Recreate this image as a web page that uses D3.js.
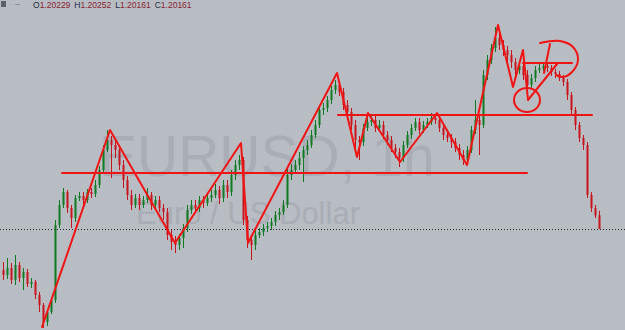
<html>
<head>
<title>EURUSD H1</title>
<script src="https://d3js.org/d3.v7.min.js"></script>
<style>
body { margin: 0; background: #b8bcc3; overflow: hidden; }
</style>
</head>
<body>
<script>
// hourly EURUSD candles, oldest first
var open = [
  1.19956,1.19931,1.19966,1.19906,1.19981,1.19916,1.19946,1.19886,1.19896,1.19831,
  1.19781,1.19696,1.19746,1.19806,1.20181,1.20281,1.20346,1.20266,1.20216,1.20316,
  1.20326,1.20306,1.20346,1.20336,1.20381,1.20456,1.20556,1.20606,1.20581,1.20556,
  1.20481,1.20406,1.20331,1.20281,1.20316,1.20281,1.20306,1.20331,1.20281,1.20306,
  1.20266,1.20246,1.20131,1.20096,1.20081,1.20116,1.20166,1.20256,1.20281,1.20266,
  1.20306,1.20291,1.20316,1.20331,1.20356,1.20316,1.20381,1.20346,1.20431,1.20481,
  1.20506,1.20206,1.20106,1.20081,1.20131,1.20146,1.20166,1.20176,1.20196,1.20231,
  1.20246,1.20281,1.20431,1.20456,1.20481,1.20516,1.20556,1.20581,1.20631,1.20681,
  1.20756,1.20766,1.20806,1.20856,1.20881,1.20846,1.20781,1.20746,1.20681,1.20606,
  1.20596,1.20666,1.20696,1.20706,1.20666,1.20681,1.20631,1.20606,1.20566,1.20546,
  1.20516,1.20581,1.20631,1.20666,1.20696,1.20656,1.20681,1.20696,1.20716,1.20706,
  1.20666,1.20631,1.20616,1.20596,1.20566,1.20531,1.20506,1.20556,1.20656,1.20706,
  1.20681,1.20931,1.21006,1.21066,1.21116,1.21081,1.21056,1.21031,1.20996,1.20956,
  1.20976,1.20931,1.20881,1.20916,1.20956,1.20966,1.20976,1.20966,1.20946,1.20936,
  1.20916,1.20896,1.20831,1.20756,1.20681,1.20616,1.20581,1.20331,1.20266,1.20229
];
var high = [
  1.19996,1.20016,1.19991,1.20031,1.19996,1.19966,1.19961,1.19916,1.19906,1.19846,
  1.19791,1.19761,1.19821,1.20206,1.20306,1.20366,1.20356,1.20281,1.20331,1.20346,
  1.20346,1.20361,1.20366,1.20406,1.20476,1.20581,1.20656,1.20626,1.20606,1.20571,
  1.20506,1.20426,1.20356,1.20336,1.20336,1.20326,1.20366,1.20346,1.20326,1.20326,
  1.20286,1.20266,1.20156,1.20126,1.20136,1.20186,1.20281,1.20306,1.20306,1.20326,
  1.20326,1.20336,1.20356,1.20386,1.20376,1.20406,1.20406,1.20456,1.20506,1.20531,
  1.20521,1.20226,1.20131,1.20156,1.20166,1.20186,1.20196,1.20216,1.20251,1.20266,
  1.20306,1.20466,1.20486,1.20506,1.20546,1.20576,1.20606,1.20656,1.20706,1.20781,
  1.20791,1.20826,1.20876,1.20906,1.20896,1.20866,1.20806,1.20766,1.20706,1.20626,
  1.20686,1.20716,1.20726,1.20726,1.20706,1.20701,1.20651,1.20626,1.20586,1.20566,
  1.20601,1.20651,1.20686,1.20716,1.20716,1.20701,1.20716,1.20741,1.20736,1.20726,
  1.20686,1.20651,1.20636,1.20616,1.20586,1.20556,1.20576,1.20676,1.20806,1.20726,
  1.20956,1.21031,1.21086,1.21171,1.21136,1.21106,1.21076,1.21056,1.21016,1.20996,
  1.20996,1.20956,1.20936,1.20976,1.20991,1.20996,1.20991,1.20981,1.20961,1.20951,
  1.20931,1.20911,1.20846,1.20771,1.20696,1.20631,1.20596,1.20346,1.20281,1.20252
];
var low = [
  1.19906,1.19911,1.19886,1.19881,1.19896,1.19856,1.19871,1.19866,1.19811,1.19746,
  1.19666,1.19676,1.19736,1.19791,1.20166,1.20266,1.20241,1.20166,1.20196,1.20301,
  1.20281,1.20291,1.20316,1.20321,1.20366,1.20446,1.20546,1.20416,1.20516,1.20456,
  1.20366,1.20306,1.20256,1.20266,1.20256,1.20266,1.20291,1.20256,1.20266,1.20246,
  1.20206,1.20106,1.20056,1.20041,1.20056,1.20066,1.20146,1.20236,1.20246,1.20246,
  1.20266,1.20276,1.20296,1.20316,1.20286,1.20296,1.20316,1.20326,1.20406,1.20456,
  1.20181,1.20066,1.20006,1.20056,1.20116,1.20126,1.20146,1.20156,1.20176,1.20206,
  1.20231,1.20266,1.20406,1.20436,1.20456,1.20396,1.20531,1.20566,1.20616,1.20666,
  1.20731,1.20746,1.20786,1.20836,1.20826,1.20756,1.20716,1.20656,1.20566,1.20506,
  1.20576,1.20651,1.20676,1.20646,1.20651,1.20611,1.20581,1.20546,1.20516,1.20471,
  1.20496,1.20566,1.20611,1.20651,1.20636,1.20641,1.20666,1.20681,1.20686,1.20646,
  1.20606,1.20596,1.20566,1.20546,1.20506,1.20481,1.20491,1.20541,1.20636,1.20531,
  1.20666,1.20906,1.20986,1.21046,1.21056,1.21026,1.20996,1.20966,1.20926,1.20936,
  1.20906,1.20846,1.20866,1.20896,1.20941,1.20951,1.20946,1.20926,1.20916,1.20901,
  1.20876,1.20806,1.20736,1.20656,1.20596,1.20556,1.20316,1.20246,1.20216,1.20161
];
var close = [
  1.19931,1.19966,1.19906,1.19981,1.19916,1.19946,1.19886,1.19896,1.19831,1.19781,
  1.19696,1.19746,1.19806,1.20181,1.20281,1.20346,1.20266,1.20216,1.20316,1.20326,
  1.20306,1.20346,1.20336,1.20381,1.20456,1.20556,1.20606,1.20581,1.20556,1.20481,
  1.20406,1.20331,1.20281,1.20316,1.20281,1.20306,1.20331,1.20281,1.20306,1.20266,
  1.20246,1.20131,1.20096,1.20081,1.20116,1.20166,1.20256,1.20281,1.20266,1.20306,
  1.20291,1.20316,1.20331,1.20356,1.20316,1.20381,1.20346,1.20431,1.20481,1.20506,
  1.20206,1.20106,1.20081,1.20131,1.20146,1.20166,1.20176,1.20196,1.20231,1.20246,
  1.20281,1.20431,1.20456,1.20481,1.20516,1.20556,1.20581,1.20631,1.20681,1.20756,
  1.20766,1.20806,1.20856,1.20881,1.20846,1.20781,1.20746,1.20681,1.20606,1.20596,
  1.20666,1.20696,1.20706,1.20666,1.20681,1.20631,1.20606,1.20566,1.20546,1.20516,
  1.20581,1.20631,1.20666,1.20696,1.20656,1.20681,1.20696,1.20716,1.20706,1.20666,
  1.20631,1.20616,1.20596,1.20566,1.20531,1.20506,1.20556,1.20656,1.20706,1.20681,
  1.20931,1.21006,1.21066,1.21116,1.21081,1.21056,1.21031,1.20996,1.20956,1.20976,
  1.20931,1.20881,1.20916,1.20956,1.20966,1.20976,1.20966,1.20946,1.20936,1.20916,
  1.20896,1.20831,1.20756,1.20681,1.20616,1.20581,1.20331,1.20266,1.20229,1.20161
];
var lastPrice = 1.20161;
var header = [["O", "1.20229"], ["H", "1.20252"], ["L", "1.20161"], ["C", "1.20161"]];
var symbol = "EURUSD, 1h";
var description = "Euro / US Dollar";

// hand drawn objects: [bar index, price]
var zigzag = [
  [9.75, 1.19671], [26.75, 1.20656], [43, 1.20091], [59.5, 1.20591], [61.25, 1.20091],
  [83.5, 1.20941], [88.5, 1.20521], [91.25, 1.20741], [99.25, 1.20496], [108.5, 1.20741],
  [116, 1.20481], [123.75, 1.21181], [127.5, 1.20871], [130, 1.21056], [131.25, 1.20806],
  [138.5, 1.20986]
];
// [from bar, to bar, price]
var levels = [[14.75, 131, 1.20441], [83.75, 147.25, 1.20731], [130, 142.25, 1.20991]];
var ring = { bar: 131, price: 1.20806, rBars: 3.25, rPrice: 0.0006 };
var loop = [[134.25, 1.21091], [139.25, 1.21101], [142.5, 1.21071], [143.75, 1.21006],
  [142.25, 1.20946], [140, 1.20921], [138.25, 1.20931]];
var stem = [[136.75, 1.21086], [135.25, 1.20941]];

var width = 625, height = 330;

var svg = d3.select('body')
  .append('svg')
  .attr('width', width)
  .attr('height', height);

var x = d3.scaleLinear().domain([0, close.length - 1]).range([3, 599]);
var y = d3.scaleLinear().domain([1.21306, 1.19656]).range([0, height]);

svg.append('rect').attr('width', width).attr('height', height).attr('fill', '#b8bcc3');

// watermark
svg.append('text')
  .attr('x', 99).attr('y', 176)
  .attr('font-family', 'Liberation Sans, Arial, sans-serif')
  .attr('font-size', 57)
  .attr('fill', '#a9adb5')
  .text(symbol);
svg.append('text')
  .attr('x', 136).attr('y', 224)
  .attr('font-family', 'Liberation Sans, Arial, sans-serif')
  .attr('font-size', 31)
  .attr('fill', '#a9adb5')
  .text(description);

// current price line
svg.append('line')
  .attr('x1', 0).attr('x2', width)
  .attr('y1', Math.round(y(lastPrice)) + 0.5).attr('y2', Math.round(y(lastPrice)) + 0.5)
  .attr('stroke', '#2a2a2a')
  .attr('stroke-dasharray', '1,2');

var candles = svg.append('g');
var idx = d3.range(close.length);
var col = function (i) { return close[i] >= open[i] ? '#0f7a22' : '#c8141c'; };

candles.selectAll('line')
  .data(idx).enter().append('line')
  .attr('x1', function (i) { return Math.round(x(i)) + 0.5; })
  .attr('x2', function (i) { return Math.round(x(i)) + 0.5; })
  .attr('y1', function (i) { return y(high[i]); })
  .attr('y2', function (i) { return y(low[i]); })
  .attr('stroke', col);

candles.selectAll('rect')
  .data(idx).enter().append('rect')
  .attr('x', function (i) { return Math.round(x(i)) - 0.5; })
  .attr('width', 2)
  .attr('y', function (i) { return y(Math.max(open[i], close[i])); })
  .attr('height', function (i) { return Math.max(1, Math.abs(y(open[i]) - y(close[i]))); })
  .attr('fill', col);

// red drawings
var red = svg.append('g')
  .attr('fill', 'none')
  .attr('stroke', '#f01414')
  .attr('stroke-width', 2)
  .attr('stroke-linejoin', 'round')
  .attr('stroke-linecap', 'round');

var line = d3.line().x(function (d) { return x(d[0]); }).y(function (d) { return y(d[1]); });

red.append('path').attr('d', line(zigzag));

red.selectAll('line')
  .data(levels).enter().append('line')
  .attr('x1', function (d) { return x(d[0]); })
  .attr('x2', function (d) { return x(d[1]); })
  .attr('y1', function (d) { return y(d[2]); })
  .attr('y2', function (d) { return y(d[2]); });

red.append('ellipse')
  .attr('cx', x(ring.bar)).attr('cy', y(ring.price))
  .attr('rx', x(ring.bar + ring.rBars) - x(ring.bar))
  .attr('ry', y(ring.price - ring.rPrice) - y(ring.price));

red.append('path').attr('d', line.curve(d3.curveCatmullRom)(loop));
red.append('path').attr('d', d3.line().x(function (d) { return x(d[0]); }).y(function (d) { return y(d[1]); })(stem));

// top-left info
svg.append('rect').attr('x', 1).attr('y', 1).attr('width', 5).attr('height', 6).attr('fill', '#5a5f6a');
svg.append('line').attr('x1', 15).attr('x2', 20).attr('y1', 4.5).attr('y2', 4.5).attr('stroke', '#8a8f99');
var info = svg.append('text')
  .attr('x', 33).attr('y', 8)
  .attr('font-family', 'Liberation Sans, Arial, sans-serif')
  .attr('font-size', 8.5);
header.forEach(function (h, i) {
  info.append('tspan').attr('fill', '#1f2a44').attr('dx', i ? 4 : 0).text(h[0]);
  info.append('tspan').attr('fill', '#8a2432').text(h[1]);
});
</script>
</body>
</html>
